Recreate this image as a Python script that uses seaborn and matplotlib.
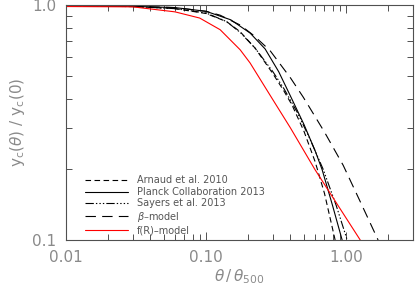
import numpy as np
import pandas as pd
import matplotlib
matplotlib.use("Agg")
import matplotlib.pyplot as plt
import seaborn as sns
from matplotlib.ticker import FixedLocator, NullFormatter, LogLocator

# values (theta/theta_500, y_c(theta)/y_c(0))
arnaud_x = [0.01, 0.03, 0.06, 0.10, 0.14, 0.175, 0.224, 0.30, 0.36, 0.411, 0.50, 0.601, 0.70, 0.834]
arnaud_y = [0.99, 0.985, 0.965, 0.92, 0.85, 0.77, 0.655, 0.51, 0.43, 0.375, 0.29, 0.215, 0.158, 0.10]

planck_x = [0.01, 0.03, 0.06, 0.10, 0.15, 0.206, 0.264, 0.33, 0.40, 0.50, 0.60, 0.674, 0.80, 0.936]
planck_y = [0.99, 0.987, 0.975, 0.94, 0.865, 0.76, 0.65, 0.52, 0.41, 0.31, 0.24, 0.199, 0.14, 0.10]

sayers_x = [0.01, 0.03, 0.06, 0.10, 0.14, 0.175, 0.224, 0.30, 0.36, 0.447, 0.55, 0.685, 0.85, 1.017]
sayers_y = [0.99, 0.985, 0.965, 0.925, 0.85, 0.765, 0.655, 0.52, 0.44, 0.35, 0.27, 0.20, 0.14, 0.10]

beta_x = [0.01, 0.03, 0.06, 0.10, 0.126, 0.148, 0.175, 0.22, 0.286, 0.40, 0.493, 0.535, 0.70, 0.952, 1.30, 1.69]
beta_y = [0.99, 0.988, 0.975, 0.94, 0.905, 0.863, 0.822, 0.74, 0.64, 0.49, 0.406, 0.375, 0.288, 0.208, 0.14, 0.10]

fr_x = [0.01, 0.03, 0.06, 0.09, 0.126, 0.175, 0.206, 0.30, 0.40, 0.60, 0.85, 1.26]
fr_y = [0.985, 0.982, 0.935, 0.88, 0.785, 0.645, 0.567, 0.395, 0.30, 0.199, 0.144, 0.10]

labels = ["Arnaud et al. 2010", "Planck Collaboration 2013", "Sayers et al. 2013",
          "$\\beta$\u2013model", "f(R)\u2013model"]
series = [(arnaud_x, arnaud_y), (planck_x, planck_y), (sayers_x, sayers_y),
          (beta_x, beta_y), (fr_x, fr_y)]

rows = []
for name, (xs, ys) in zip(labels, series):
    for xv, yv in zip(xs, ys):
        rows.append({"theta": xv, "y": yv, "model": name})
df = pd.DataFrame(rows)

sns.set_style("ticks")
plt.rcParams["lines.scale_dashes"] = False
grey = "#8a8a8a"

fig = plt.figure(figsize=(4.15, 2.94), dpi=100)
ax = fig.add_axes([66 / 415, 1 - 240 / 294, 347 / 415, 235 / 294])

palette = {labels[0]: "black", labels[1]: "black", labels[2]: "black",
           labels[3]: "black", labels[4]: "red"}
dashes = {labels[0]: (4, 2.5), labels[1]: "", labels[2]: (6, 1.5, 1, 1.5, 1, 1.5, 1, 1.5),
          labels[3]: (7.5, 4.5), labels[4]: ""}
sns.lineplot(data=df, x="theta", y="y", hue="model", style="model", palette=palette,
             dashes=dashes, estimator=None, sort=False, lw=0.8, legend=False, ax=ax)

ax.set_xscale("log")
ax.set_yscale("log")
ax.set_xlim(0.01, 3.0)
ax.set_ylim(0.1, 1.0)

ax.xaxis.set_major_locator(FixedLocator([0.01, 0.1, 1.0]))
ax.set_xticklabels(["0.01", "0.10", "1.00"])
ax.yaxis.set_major_locator(FixedLocator([0.1, 1.0]))
ax.set_yticklabels(["0.1", "1.0"])
ax.xaxis.set_minor_locator(LogLocator(base=10, subs=np.arange(2, 10)))
ax.yaxis.set_minor_locator(LogLocator(base=10, subs=np.arange(2, 10)))
ax.xaxis.set_minor_formatter(NullFormatter())
ax.yaxis.set_minor_formatter(NullFormatter())

ax.tick_params(which="both", direction="in", top=True, right=True, color="#505050", width=0.7)
ax.tick_params(which="major", length=6, labelsize=11, labelcolor=grey, pad=7)
ax.tick_params(which="minor", length=4)
for sp in ax.spines.values():
    sp.set_color("#505050")
    sp.set_linewidth(0.8)

ax.set_xlabel("$\\theta\\,/\\,\\theta_{500}$", color=grey, fontsize=11, labelpad=2)
ax.set_ylabel("y$_\\mathrm{c}$($\\theta$) / y$_\\mathrm{c}$(0)", color=grey, fontsize=11, labelpad=4)

leg = ax.legend(handles=ax.lines, labels=labels, loc="lower left",
                bbox_to_anchor=(0.055, 0.02), frameon=False, fontsize=7,
                handlelength=4.4, handletextpad=0.9, labelspacing=0.15,
                borderpad=0, borderaxespad=0)
for t in leg.get_texts():
    t.set_color("#555555")

fig.savefig("out.png", dpi=100)
